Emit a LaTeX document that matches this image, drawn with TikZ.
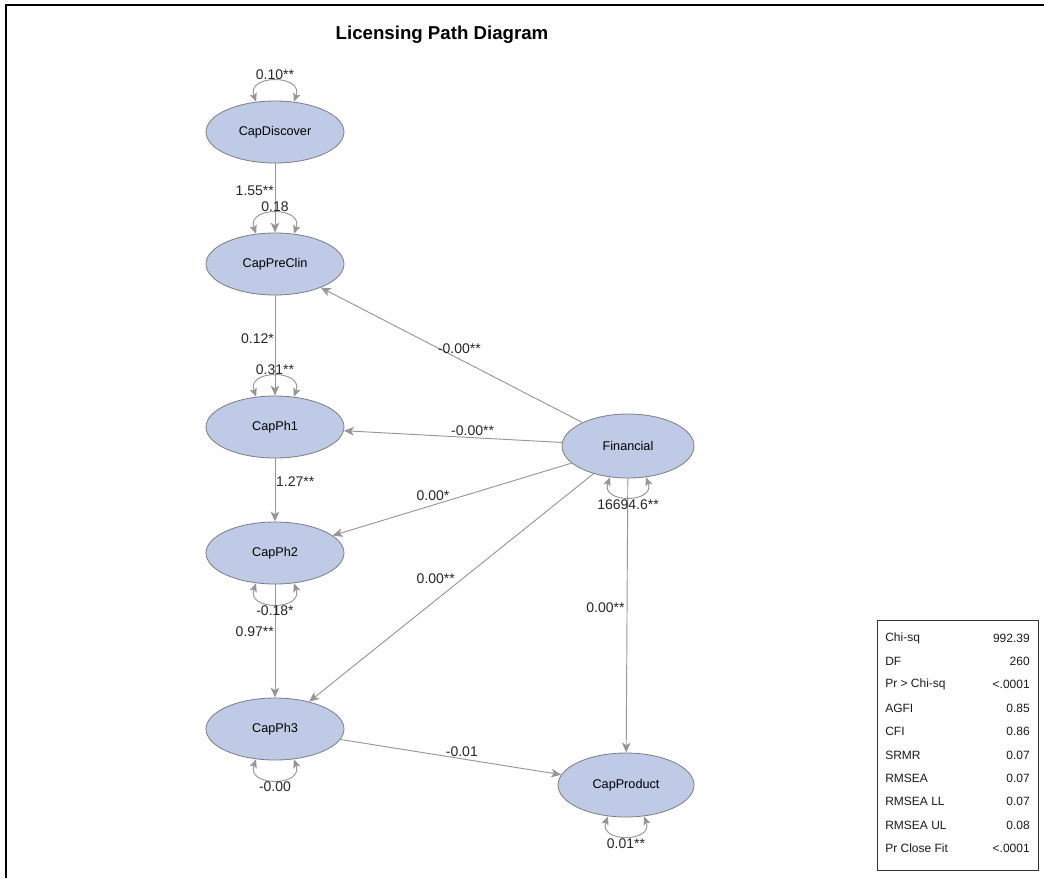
\documentclass[tikz,border=0pt]{standalone}
\usepackage{fontspec}
\setmainfont{Liberation Sans}
\usetikzlibrary{positioning, calc, arrows.meta, shapes.geometric}

\definecolor{latentfill}{RGB}{190,202,230}
\definecolor{latentedge}{RGB}{125,125,125}
\definecolor{arrgray}{RGB}{150,150,150}

\begin{document}
\begin{tikzpicture}[x = 0.75pt, y = -0.75pt]
\useasboundingbox (0, 0) rectangle (1044, 878);
\begin{scope}[
	latent/.style={
		ellipse, draw=latentedge, fill=latentfill, line width=0.6pt,
		minimum width=103.5pt, minimum height=46.5pt, inner sep=0pt,
		font=\fontsize{9.5}{11}\selectfont
	},
	regarr/.style={
		draw=arrgray, line width=0.7pt,
		-{Stealth[length=7.5pt, width=6.5pt, inset=2pt]}
	},
	vararr/.style={
		draw=arrgray, line width=0.7pt,
		{Stealth[length=6.5pt, width=5.5pt, inset=1.5pt]}-{Stealth[length=6.5pt, width=5.5pt, inset=1.5pt]}
	},
	coef/.style={font=\fontsize{10.5}{12}\selectfont, inner sep=1.5pt, text=black!85},
	fitlbl/.style={font=\fontsize{9}{10}\selectfont, inner sep=0pt, text=black!90}
]
\draw[line width=1.5pt] (6, 878) -- (6, 5) -- (1044, 5);
\node[font=\fontsize{14}{16}\selectfont\bfseries] (title) at (442, 35) {Licensing Path Diagram};

\foreach \name/\lbl/\y in {cdis/CapDiscover/132, cpre/CapPreClin/264, ph1/CapPh1/427, ph2/CapPh2/553, ph3/CapPh3/729} {
	\node[latent] (\name) at (275, \y) {\lbl};
}
\node[latent, minimum width=99pt, minimum height=48pt] (fin) at (628, 446) {Financial};
\node[latent, minimum width=102pt, minimum height=48pt] (cprod) at (626, 785) {CapProduct};

% chain of stages
\draw[regarr] (cdis) -- node[coef, left, inner sep=0.5pt, pos=0.4]{1.55**} (cpre);
\draw[regarr] (cpre) -- node[coef, left, inner sep=0.5pt, pos=0.43]{0.12*} (ph1);
\draw[regarr] (ph1) -- node[coef, right, inner sep=0.5pt, pos=0.37]{1.27**} (ph2);
\draw[regarr] (ph2) -- node[coef, left, inner sep=0.5pt, pos=0.42]{0.97**} (ph3);

% financial paths
\draw[regarr] (fin) -- node[coef, above, pos=0.47, inner sep=4pt]{-0.00**} (cpre);
\draw[regarr] (fin) -- node[coef, above, pos=0.41]{-0.00**} (ph1);
\draw[regarr] (fin) -- node[coef, above, pos=0.58, inner sep=3pt]{0.00*} (ph2);
\draw[regarr] (fin) -- node[coef, left, pos=0.46, xshift=-4pt]{0.00**} (ph3);
\draw[regarr] (fin) -- node[coef, left, pos=0.47]{0.00**} (cprod);
\draw[regarr] (ph3) -- node[coef, above, pos=0.55]{-0.01} (cprod);

% variances
\foreach \name/\val in {cdis/0.10**, cpre/0.18, ph1/0.31**} {
	\draw[vararr] (\name.122) to[out=110, in=70, looseness=2] node[coef, above, inner sep=1pt]{\val} (\name.58);
}
\foreach \name/\val in {ph2/-0.18*, ph3/-0.00} {
	\draw[vararr] (\name.238) to[out=250, in=290, looseness=2] node[coef, below, inner sep=1pt]{\val} (\name.302);
}
\foreach \name/\val in {fin/16694.6**, cprod/0.01**} {
	\draw[vararr] (\name.240) to[out=250, in=290, looseness=2] node[coef, below, inner sep=1.5pt]{\val} (\name.300);
}

% fit statistics
\node[draw=black!80, line width=0.6pt, minimum width=120.75pt, minimum height=187.5pt, inner sep=0pt, anchor=north west] (fitbox) at (877, 620) {};
\foreach \i/\stat/\val in {0/Chi-sq/992.39, 1/DF/260, 2/Pr > Chi-sq/{<.0001}, 3/AGFI/0.85, 4/CFI/0.86, 5/SRMR/0.07, 6/RMSEA/0.07, 7/RMSEA LL/0.07, 8/RMSEA UL/0.08, 9/Pr Close Fit/{<.0001}} {
	\node[fitlbl, anchor=west] (stat-\i) at (885, {638 + 23.4*\i}) {\stat};
	\node[fitlbl, anchor=east] (val-\i) at (1030, {638 + 23.4*\i}) {\val};
}
\end{scope}
\end{tikzpicture}
\end{document}
